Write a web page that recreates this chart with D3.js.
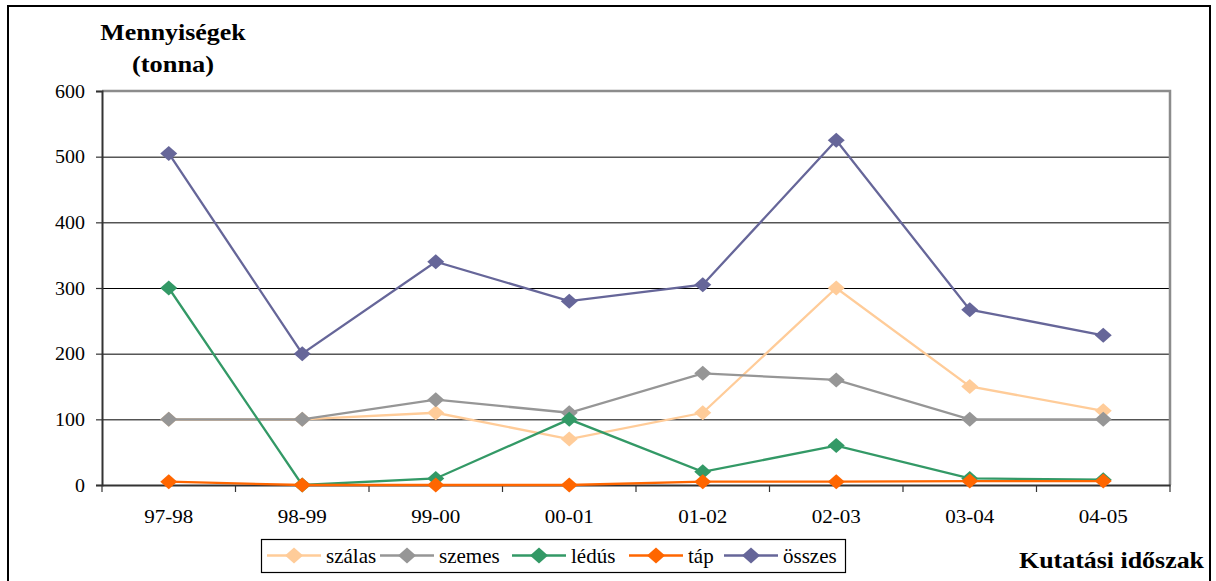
<!DOCTYPE html>
<html><head><meta charset="utf-8">
<script src="https://cdn.jsdelivr.net/npm/d3@7"></script>
<style>html,body{margin:0;padding:0;background:#fff;}svg{display:block;}
text{font-family:"Liberation Serif","Times New Roman",Tinos,"DejaVu Serif",serif;}</style>
</head><body>
<svg id="c" width="1216" height="581"></svg>
<script>
const categories = ["97-98","98-99","99-00","00-01","01-02","02-03","03-04","04-05"];
const szalas = [100,100,110,70,110,300,150,113];
const szemes = [100,100,130,110,170,160,100,100];
const ledus  = [300,0,10,100,20,60,10,8];
const tap    = [5,0,0,0,5,5,6,6];
const osszes = [505,200,340,280,305,525,267,228];
const yTicks = [0,100,200,300,400,500,600];
const seriesNames = ["szálas","szemes","lédús","táp","összes"];
const seriesColors = ["#FFCC99","#969696","#339966","#FF6600","#666699"];
const seriesData = [szalas,szemes,ledus,tap,osszes];

const svg = d3.select("#c");
const L=102,R=1170,T=91,B=485;
const SX=1.08;
function stretch(sel, sx){
  sel.each(function(){
    const t=d3.select(this);
    const tx=+t.attr("x")||0, ty=+t.attr("y")||0;
    t.attr("transform",`translate(${tx},${ty}) scale(${sx},1) translate(${-tx},${-ty})`);
  });
}

svg.append("rect").attr("x",8).attr("y",6).attr("width",1202).attr("height",600)
  .attr("fill","none").attr("stroke","#000").attr("stroke-width",2);

const x = d3.scaleBand().domain(categories).range([L,R]).padding(0);
const y = d3.scaleLinear().domain([0,600]).range([B,T]);

svg.append("g").selectAll("line").data(yTicks.filter(d=>d>0&&d<600)).join("line")
  .attr("x1",L).attr("x2",R).attr("y1",d=>y(d)+0.5).attr("y2",d=>y(d)+0.5)
  .attr("stroke","#000").attr("stroke-width",1);

svg.append("path").attr("d",`M${L},${T} H${R} V${B}`).attr("fill","none")
  .attr("stroke","#8c8c8c").attr("stroke-width",2.5);

const ya = svg.append("g").attr("transform",`translate(${L},0)`)
  .call(d3.axisLeft(y).tickValues(yTicks).tickSize(6).tickPadding(11).tickFormat(d3.format("d")));
ya.select(".domain").attr("stroke","#333").attr("stroke-width",2);
ya.selectAll(".tick line").attr("stroke","#333").attr("stroke-width",1.2);
ya.selectAll("text").attr("font-family",null).attr("font-size",18.5).attr("fill","#000")
  .attr("dy","0.34em");
stretch(ya.selectAll("text"), SX);

const xa = svg.append("g").attr("transform",`translate(0,${B})`)
  .call(d3.axisBottom(x).tickSize(0).tickPadding(0));
xa.select(".domain").attr("stroke","#333").attr("stroke-width",2);
xa.selectAll("text").attr("font-family",null).attr("font-size",19.5).attr("fill","#000")
  .attr("y",38).attr("dy",null);
stretch(xa.selectAll("text"), SX);
const bounds = categories.map(c=>x(c)).concat([R]);
svg.append("g").selectAll("line").data(bounds).join("line")
  .attr("x1",d=>d).attr("x2",d=>d).attr("y1",B).attr("y2",B+7)
  .attr("stroke","#333").attr("stroke-width",1.2);

const cx = c => x(c)+x.bandwidth()/2;
const line = d3.line().x((d,i)=>cx(categories[i])).y(d=>y(d));
const dia = (w,h)=>`M0,${-h}L${w},0L0,${h}L${-w},0Z`;

seriesData.forEach((data,si)=>{
  const g = svg.append("g");
  g.append("path").datum(data).attr("d",line).attr("fill","none")
    .attr("stroke",seriesColors[si]).attr("stroke-width",2.3);
  g.selectAll("path.m").data(data).join("path").attr("class","m")
    .attr("d",dia(8.5,7.5)).attr("transform",(d,i)=>`translate(${cx(categories[i])},${y(d)})`)
    .attr("fill",seriesColors[si]);
});

const t1 = svg.append("text").attr("x",173).attr("y",40).attr("text-anchor","middle")
  .attr("font-weight","bold").attr("font-size",24).text("Mennyiségek");
const t2 = svg.append("text").attr("x",173).attr("y",72).attr("text-anchor","middle")
  .attr("font-weight","bold").attr("font-size",24).text("(tonna)");
const t3 = svg.append("text").attr("x",1204).attr("y",568).attr("text-anchor","end")
  .attr("font-weight","bold").attr("font-size",24).text("Kutatási időszak");
stretch(t1,1.08); stretch(t2,1.1); stretch(t3,1.08);

const lg = svg.append("g");
lg.append("rect").attr("x",261.5).attr("y",539.5).attr("width",584).attr("height",33)
  .attr("fill","#fff").attr("stroke","#000").attr("stroke-width",1.2);
const legX = [267,380,512,629,724];
seriesNames.forEach((n,i)=>{
  const gx = legX[i];
  lg.append("line").attr("x1",gx).attr("x2",gx+54).attr("y1",555.5).attr("y2",555.5)
    .attr("stroke",seriesColors[i]).attr("stroke-width",2.5);
  lg.append("path").attr("d",dia(9,8)).attr("transform",`translate(${gx+27},555.5)`)
    .attr("fill",seriesColors[i]);
  lg.append("text").attr("x",gx+59).attr("y",563).attr("font-size",21).text(n);
});
</script>
</body></html>
